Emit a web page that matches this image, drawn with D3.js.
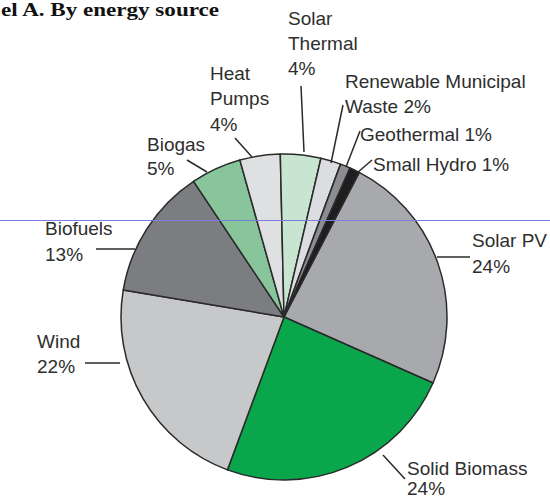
<!DOCTYPE html>
<html><head><meta charset="utf-8">
<script src="https://cdn.jsdelivr.net/npm/d3@7"></script>
<style>
html,body{margin:0;padding:0;background:#fff;}
svg{display:block;}
</style></head>
<body>
<svg id="chart" width="550" height="501"></svg>
<script>
// ---- data ----
const categories = ["Solar PV","Solid Biomass","Wind","Biofuels","Biogas","Heat Pumps","Solar Thermal","Renewable Municipal Waste","Geothermal","Small Hydro"];
const shares = [24,24,22,13,5,4,4,2,1,1];
const labelLines = [
  ["Solar PV","{p}"],
  ["Solid Biomass","{p}"],
  ["Wind","{p}"],
  ["Biofuels","{p}"],
  ["Biogas","{p}"],
  ["Heat","Pumps","{p}"],
  ["Solar","Thermal","{p}"],
  ["Renewable Municipal","Waste {p}"],
  ["Geothermal {p}"],
  ["Small Hydro {p}"]
];
const titleText = "el A. By energy source";

// ---- style / layout ----
const colors = ["#a8a9ac","#0aa64b","#c7c8ca","#7c7d80","#89c59b","#dfe0e2","#c7e5d0","#dcdde0","#8c8d90","#1e1e1e"];
const cx = 284, cy = 317, R = 163;
const startDeg = 27.5;
const labelPos = [
  {x:472, y:[247,273], lead:[[437,257],[470,257]]},
  {x:407, y:[475,495], lead:[[383,455],[405,479]]},
  {x:37,  y:[348,373], lead:[[85,363],[120,363]]},
  {x:45,  y:[235,261], lead:[[96,249],[135,249]]},
  {x:147, y:[151,175], lead:[[187,160],[207,172]]},
  {x:210, y:[80,105,131], lead:[[235,138],[252,157]]},
  {x:288, y:[25,50,75], lead:[[301,86],[304,152]]},
  {x:345, y:[88,113], lead:[[343,105],[331,163]]},
  {x:360, y:[141], lead:[[360,131],[346,167]]},
  {x:373, y:[171], lead:[[372,160],[357,173]]}
];

const svg = d3.select("#chart");

svg.append("text")
  .attr("x", 1).attr("y", 16)
  .attr("font-family", "'Liberation Serif', 'DejaVu Serif', serif")
  .attr("font-weight", "bold")
  .attr("font-size", 18)
  .attr("textLength", 218)
  .attr("lengthAdjust", "spacingAndGlyphs")
  .attr("fill", "#111")
  .text(titleText);

const s0 = startDeg * Math.PI / 180;
const pie = d3.pie().sort(null).value(d => d).startAngle(s0).endAngle(s0 + 2 * Math.PI);
const arc = d3.arc().innerRadius(0).outerRadius(R);
const arcs = pie(shares);

const g = svg.append("g").attr("transform", `translate(${cx},${cy})`);
g.selectAll("path.slice").data(arcs).join("path")
  .attr("class", "slice")
  .attr("d", arc)
  .attr("fill", (d, i) => colors[i])
  .attr("stroke", "#2a2a2a")
  .attr("stroke-width", 1.5)
  .attr("stroke-linejoin", "round");

// leader lines
svg.append("g").selectAll("line").data(labelPos).join("line")
  .attr("x1", d => d.lead[0][0]).attr("y1", d => d.lead[0][1])
  .attr("x2", d => d.lead[1][0]).attr("y2", d => d.lead[1][1])
  .attr("stroke", "#2a2a2a").attr("stroke-width", 1.5);

// labels
const lg = svg.append("g")
  .attr("font-family", "'Liberation Sans', Arial, sans-serif")
  .attr("font-size", 19)
  .attr("fill", "#2e2e2e");
categories.forEach((c, i) => {
  const pos = labelPos[i];
  labelLines[i].forEach((ln, j) => {
    lg.append("text")
      .attr("x", pos.x).attr("y", pos.y[j])
      .text(ln.replace("{p}", shares[i] + "%"));
  });
});

// thin blue scan line seen in the reference
svg.append("line")
  .attr("x1", 0).attr("x2", 550).attr("y1", 220.5).attr("y2", 220.5)
  .attr("stroke", "#7b7be0").attr("stroke-width", 1);
</script>
</body></html>
